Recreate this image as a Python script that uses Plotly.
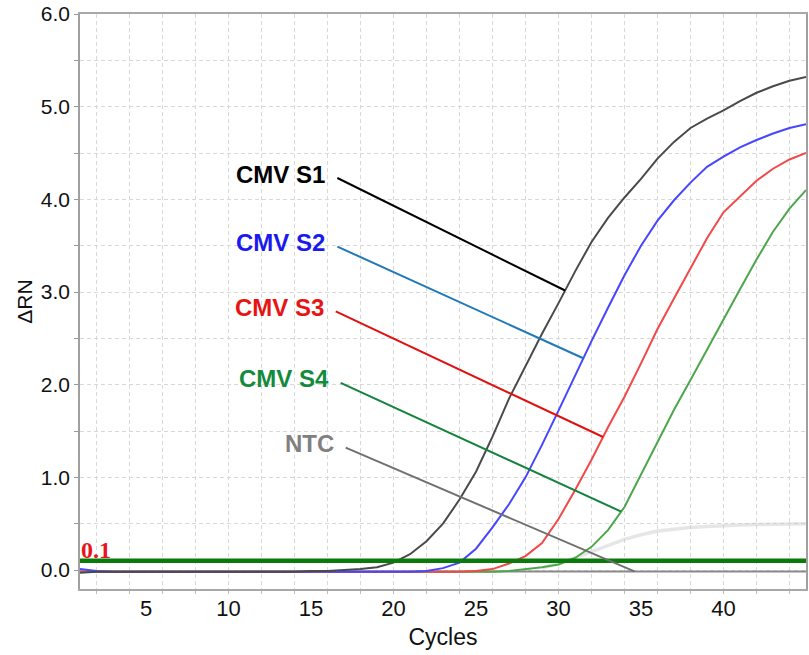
import numpy as np
import plotly.graph_objects as go

# Amplification data: delta Rn per cycle
cycles = list(range(1, 46))

cmv_s1 = [-0.03, -0.02, -0.02, -0.02, -0.02, -0.02, -0.02, -0.02, -0.02, -0.02,
          -0.02, -0.02, -0.02, -0.02, -0.01, -0.01, 0.00, 0.01, 0.03, 0.08,
          0.17, 0.31, 0.50, 0.76, 1.06, 1.44, 1.85, 2.20, 2.55, 2.88,
          3.22, 3.54, 3.80, 4.02, 4.22, 4.44, 4.62, 4.77, 4.87, 4.96,
          5.06, 5.15, 5.22, 5.28, 5.32]
cmv_s2 = [0.01, -0.01, -0.02, -0.02, -0.02, -0.02, -0.02, -0.02, -0.02, -0.02,
          -0.02, -0.02, -0.02, -0.02, -0.02, -0.02, -0.02, -0.02, -0.02, -0.02,
          -0.02, -0.01, 0.02, 0.08, 0.23, 0.46, 0.71, 1.00, 1.35, 1.72,
          2.10, 2.47, 2.83, 3.18, 3.50, 3.77, 3.99, 4.18, 4.35, 4.46,
          4.56, 4.64, 4.71, 4.77, 4.81]
cmv_s3 = [-0.02, -0.02, -0.02, -0.02, -0.02, -0.02, -0.02, -0.02, -0.02, -0.02,
          -0.02, -0.02, -0.02, -0.02, -0.02, -0.02, -0.02, -0.02, -0.02, -0.02,
          -0.02, -0.02, -0.02, -0.02, -0.01, 0.01, 0.07, 0.15, 0.29, 0.55,
          0.86, 1.19, 1.54, 1.87, 2.23, 2.60, 2.93, 3.25, 3.58, 3.86,
          4.03, 4.20, 4.33, 4.43, 4.50]
cmv_s4 = [-0.02, -0.02, -0.02, -0.02, -0.02, -0.02, -0.02, -0.02, -0.02, -0.02,
          -0.02, -0.02, -0.02, -0.02, -0.02, -0.02, -0.02, -0.02, -0.02, -0.02,
          -0.02, -0.02, -0.02, -0.02, -0.02, -0.02, -0.01, 0.01, 0.03, 0.06,
          0.13, 0.25, 0.43, 0.68, 1.03, 1.39, 1.73, 2.05, 2.38, 2.71,
          3.03, 3.35, 3.65, 3.90, 4.10]
ntc = [-0.015] * 45
# faint passive-reference trace
reference_bg = [-0.02] * 28 + [0.02, 0.07, 0.13, 0.20, 0.27, 0.33, 0.38, 0.42,
                               0.44, 0.46, 0.47, 0.48, 0.485, 0.49, 0.495, 0.50, 0.50]

threshold = 0.1

x_ticks = [5, 10, 15, 20, 25, 30, 35, 40]
y_ticks = [0.0, 0.5, 1.0, 1.5, 2.0, 2.5, 3.0, 3.5, 4.0, 4.5, 5.0, 5.5, 6.0]
y_ticktext = ["0.0", "", "1.0", "", "2.0", "", "3.0", "", "4.0", "", "5.0", "", "6.0"]
x_grid = list(range(2, 46, 2))

# Callout labels: pointer meets the curve at label_tip_cycle; label anchored at the tail
labels = ["CMV S1", "CMV S2", "CMV S3", "CMV S4", "NTC"]
label_tip_cycle = [30.4, 31.5, 32.7, 33.8, 34.6]
label_tail_cycle = [16.6, 16.6, 16.5, 16.8, 17.1]
label_tail_value = [4.23, 3.49, 2.79, 2.02, 1.32]

series = [cmv_s1, cmv_s2, cmv_s3, cmv_s4, ntc]
curve_colors = ["#4a4a4a", "#4646ff", "#f24848", "#4ca64c", "#8a8a8a"]
text_colors = ["#000000", "#1a1af0", "#e81414", "#138a3c", "#808080"]
pointer_colors = ["#000000", "#1f78b8", "#e01010", "#15823e", "#707070"]

SANS = "Liberation Sans, Arial, sans-serif"

fig = go.Figure()

fig.add_trace(go.Scatter(x=cycles[28:], y=reference_bg[28:], mode="lines",
                         line=dict(color="rgba(200,200,200,0.45)", width=3.5),
                         hoverinfo="skip", showlegend=False))

# draw in reverse so S1 sits on top
for name, ys, col in reversed(list(zip(labels, series, curve_colors))):
    fig.add_trace(go.Scatter(x=cycles, y=ys, mode="lines", name=name,
                             line=dict(color=col, width=2), showlegend=False))

fig.add_trace(go.Scatter(x=[cycles[0], cycles[-1]], y=[threshold, threshold], mode="lines",
                         line=dict(color="#0a7a0a", width=4.5), showlegend=False))

fig.add_annotation(x=cycles[0], y=threshold, xref="x", yref="y", text="<b>0.1</b>",
                   showarrow=False, xanchor="left", yanchor="bottom", xshift=-1, yshift=-4,
                   font=dict(family="Liberation Serif, DejaVu Serif, serif", size=24, color="#e8141c"))

for name, ys, tc, tailc, tailv, pc, txc in zip(labels, series, label_tip_cycle, label_tail_cycle,
                                               label_tail_value, pointer_colors, text_colors):
    tipv = float(np.interp(tc, cycles, ys))
    fig.add_shape(type="line", xref="x", yref="y", x0=tailc, y0=tailv, x1=tc, y1=tipv,
                  line=dict(color=pc, width=2))
    fig.add_annotation(x=tailc, y=tailv, xref="x", yref="y", text="<b>%s</b>" % name,
                       showarrow=False, xanchor="right", yanchor="middle", xshift=-10, yshift=4,
                       font=dict(family=SANS, size=24, color=txc))

fig.update_layout(
    width=809, height=655,
    margin=dict(l=80, r=1, t=14, b=66),
    plot_bgcolor="white", paper_bgcolor="white",
    showlegend=False,
    xaxis=dict(range=[1, 45], tickmode="array", tickvals=x_grid, showticklabels=False,
               showgrid=True, gridcolor="#d8d8d8", griddash="4px,3px", gridwidth=1,
               ticks="outside", ticklen=3, tickcolor="#bbbbbb",
               showline=True, linecolor="#a8a8a8", linewidth=1.5, mirror=True,
               zeroline=False),
    xaxis2=dict(range=[1, 45], overlaying="x", anchor="y", side="bottom",
                tickmode="array", tickvals=x_ticks, ticktext=[str(v) for v in x_ticks],
                showgrid=False, ticks="", zeroline=False, showline=False,
                ticklabelstandoff=4,
                tickfont=dict(family=SANS, size=22, color="#111111"),
                title=dict(text="Cycles", font=dict(family=SANS, size=23, color="#111111"),
                           standoff=8)),
    yaxis=dict(range=[-0.205, 6.0], tickmode="array", tickvals=y_ticks, ticktext=y_ticktext,
               showgrid=True, gridcolor="#d8d8d8", griddash="4px,3px", gridwidth=1,
               ticks="outside", ticklen=4, tickcolor="#999999",
               showline=True, linecolor="#a0a0a0", linewidth=1.5, mirror=True,
               zeroline=False,
               tickfont=dict(family=SANS, size=21, color="#111111"),
               title=dict(text="\u0394RN", font=dict(family=SANS, size=21, color="#111111"),
                          standoff=2)),
)

# placeholder trace binding the label axis
fig.add_trace(go.Scatter(x=[None], y=[None], xaxis="x2", yaxis="y", showlegend=False,
                         hoverinfo="skip"))

fig.write_html("out.html")
